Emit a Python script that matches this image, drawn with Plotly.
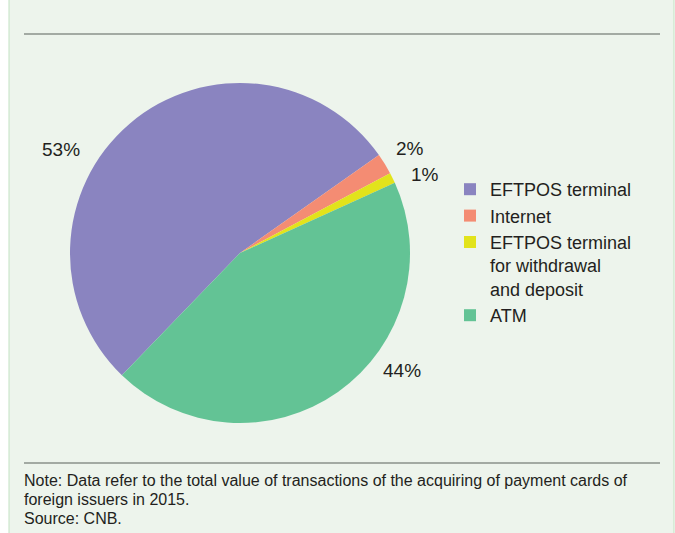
import plotly.graph_objects as go

labels = ["EFTPOS terminal", "Internet", "EFTPOS terminal<br>for withdrawal<br>and deposit", "ATM"]
values = [53, 2, 1, 44]
colors = ["#8a84c0", "#f48c73", "#e2e31b", "#63c395"]
note_lines = [
    "Note: Data refer to the total value of transactions of the acquiring of payment cards of",
    "foreign issuers in 2015.",
    "Source: CNB.",
]

# label placement (pixels in the 675x533 canvas), styling only
label_pos = [(61, 150), (410, 148), (425, 175), (402, 370)]

W, H = 675, 533
FONT = "Liberation Sans, Arial, Helvetica, sans-serif"
TXT = "#231f20"

fig = go.Figure(go.Pie(
    labels=labels,
    values=values,
    marker=dict(colors=colors, line=dict(width=0)),
    sort=False,
    direction="clockwise",
    rotation=224,
    textposition="none",
    hoverinfo="label+percent",
    domain=dict(x=[70 / W, 410 / W], y=[1 - 423 / H, 1 - 83 / H]),
))

shapes = [
    dict(type="rect", xref="paper", yref="paper", x0=9 / W, x1=674 / W, y0=-0.01, y1=1.01,
         line=dict(color="#c3e2c3", width=1), fillcolor="#edf4ec", layer="below"),
    dict(type="line", xref="paper", yref="paper", x0=24 / W, x1=660 / W, y0=1 - 34 / H, y1=1 - 34 / H,
         line=dict(color="#a3aaa3", width=2)),
    dict(type="line", xref="paper", yref="paper", x0=24 / W, x1=660 / W, y0=1 - 463 / H, y1=1 - 463 / H,
         line=dict(color="#a3aaa3", width=2)),
]

total = sum(values)
annotations = []
for v, (px, py) in zip(values, label_pos):
    annotations.append(dict(
        text=f"{round(100 * v / total)}%", xref="paper", yref="paper",
        x=px / W, y=1 - py / H, xanchor="center", yanchor="middle",
        showarrow=False, font=dict(size=19, family=FONT, color=TXT)))

for i, line in enumerate(note_lines):
    annotations.append(dict(
        text=line, xref="paper", yref="paper",
        x=22 / W, y=1 - (480 + 19 * i) / H, xanchor="left", yanchor="middle", align="left",
        showarrow=False, font=dict(size=16, family=FONT, color=TXT)))

fig.update_layout(
    width=W, height=H,
    margin=dict(l=0, r=0, t=0, b=0),
    paper_bgcolor="white",
    plot_bgcolor="white",
    font=dict(family=FONT, size=18, color=TXT),
    shapes=shapes,
    showlegend=True,
    legend=dict(
        x=450 / W, y=1 - 171 / H, xanchor="left", yanchor="top",
        bgcolor="rgba(0,0,0,0)",
        font=dict(size=18, family=FONT, color=TXT),
        tracegroupgap=0, itemwidth=30, valign="top",
    ),
    annotations=annotations,
)

fig.write_html("out.html")
